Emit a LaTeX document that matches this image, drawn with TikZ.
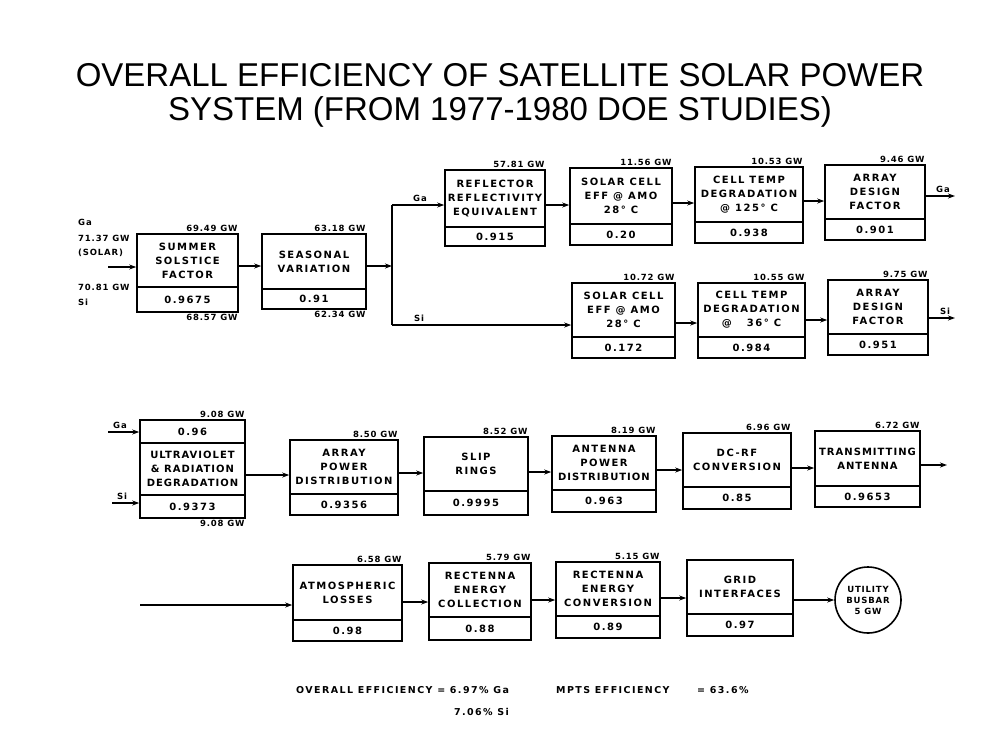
\documentclass[tikz,border=0pt]{standalone}
\usepackage{fontspec}
\setmainfont{Liberation Sans}
\newfontfamily\bx[LetterSpace=10]{DejaVu Sans}
\newfontfamily\bxw[LetterSpace=15]{DejaVu Sans}
\usetikzlibrary{arrows.meta,fit}
\tikzset{
  box/.style={draw, line width=1.6pt, inner sep=0pt},
  div/.style={line width=1.6pt},
  txt/.style={font=\bxw\bfseries\fontsize{10}{14}\selectfont, align=center, inner sep=0pt},
  lbl/.style={font=\bx\bfseries\fontsize{8.5}{10}\selectfont, inner sep=1pt},
  foot/.style={font=\bxw\bfseries\fontsize{9.5}{11}\selectfont, inner sep=1pt},
  ttl/.style={font=\fontsize{33}{40}\selectfont, inner sep=0pt},
  con/.style={line width=1.4pt},
  arr/.style={con, -{Stealth[length=7pt,width=5pt]}},
}
% name, left, top, right, bottom, divider, text, factor
\newcommand\blk[8]{%
  \node[box, fit={(#2,#3) (#4,#5)}] (#1) {};
  \draw[div] (#1.west |- 0,#6) -- (#1.east |- 0,#6);
  \node[txt] (#1t) at ({(#2+#4)/2},{(#3+#6)/2}) {#7};
  \node[txt] (#1f) at ({(#2+#4)/2},{(#6+#5)/2}) {#8};
}
\begin{document}
\begin{tikzpicture}[x=1pt,y=-1pt]
\useasboundingbox[fill=white] (0,0) rectangle (1000,747);
% title
\node[ttl] (t1) at (500,75) {OVERALL EFFICIENCY OF SATELLITE SOLAR POWER};
\node[ttl] (t2) at (500,112) {SYSTEM (FROM 1977-1980 DOE STUDIES)};
% ---------------- row 1 ----------------
\node[lbl, anchor=west] (lga) at (77,222) {Ga};
\node[lbl, anchor=west] (lp1) at (77,238) {71.37 GW};
\node[lbl, anchor=west] (lp2) at (77,253) {(SOLAR)};
\node[lbl, anchor=west] (lp3) at (77,287) {70.81 GW};
\node[lbl, anchor=west] (lsi) at (77,302) {Si};
\coordinate (in1) at (108,267);
\blk{b1}{137}{234}{238}{312}{287}{SUMMER\\SOLSTICE\\FACTOR}{0.9675}
\blk{b2}{262}{234}{366}{309}{289}{SEASONAL\\VARIATION}{0.91}
\node[lbl, anchor=south east] at (b1.north east) {69.49 GW};
\node[lbl, anchor=north east] at (b1.south east) {68.57 GW};
\node[lbl, anchor=south east] at (b2.north east) {63.18 GW};
\node[lbl, anchor=north east] at (b2.south east) {62.34 GW};
\draw[arr] (in1) -- (b1.west |- in1);
\draw[arr] (b1.east |- 0,266) -- (b2.west |- 0,266);
\coordinate (sp) at (392,266);
\coordinate (spT) at (392,205);
\coordinate (spB) at (392,325);
\draw[arr] (b2.east |- sp) -- (sp);
\draw[con] (spT) -- (spB);
\blk{b3}{445}{170}{545}{246}{227}{REFLECTOR\\REFLECTIVITY\\EQUIVALENT}{0.915}
\blk{b4}{570}{168}{672}{245}{224}{SOLAR CELL\\EFF @ AMO\\28° C}{0.20}
\blk{b5}{695}{167}{803}{243}{222}{CELL TEMP\\DEGRADATION\\@ 125° C}{0.938}
\blk{b6}{825}{165}{925}{240}{219}{ARRAY\\DESIGN\\FACTOR}{0.901}
\node[lbl, anchor=south east] at (b3.north east) {57.81 GW};
\node[lbl, anchor=south east] at (b4.north east) {11.56 GW};
\node[lbl, anchor=south east] at (b5.north east) {10.53 GW};
\node[lbl, anchor=south east] at (b6.north east) {9.46 GW};
\draw[arr] (spT) -- (b3.west |- spT);
\node[lbl, anchor=south] at (420,203) {Ga};
\draw[arr] (b3.east |- 0,205) -- (b4.west |- 0,205);
\draw[arr] (b4.east |- 0,203) -- (b5.west |- 0,203);
\draw[arr] (b5.east |- 0,201) -- (b6.west |- 0,201);
\coordinate (outGa) at (955,196);
\draw[arr] (b6.east |- outGa) -- (outGa);
\node[lbl, anchor=south] at (943,194) {Ga};
% ---------------- row 2 ----------------
\blk{b7}{572}{283}{675}{358}{337}{SOLAR CELL\\EFF @ AMO\\28° C}{0.172}
\blk{b8}{698}{283}{805}{358}{337}{CELL TEMP\\DEGRADATION\\@ \quad 36° C}{0.984}
\blk{b9}{828}{280}{928}{355}{334}{ARRAY\\DESIGN\\FACTOR}{0.951}
\node[lbl, anchor=south east] at (b7.north east) {10.72 GW};
\node[lbl, anchor=south east] at (b8.north east) {10.55 GW};
\node[lbl, anchor=south east] at (b9.north east) {9.75 GW};
\draw[arr] (spB) -- (b7.west |- spB);
\node[lbl, anchor=south] at (419,323) {Si};
\draw[arr] (b7.east |- 0,323) -- (b8.west |- 0,323);
\draw[arr] (b8.east |- 0,320) -- (b9.west |- 0,320);
\coordinate (outSi) at (955,318);
\draw[arr] (b9.east |- outSi) -- (outSi);
\node[lbl, anchor=south] at (945,316) {Si};
% ---------------- row 3 ----------------
\node[box, fit={(140,420) (245,518)}] (uv) {};
\draw[div] (uv.west |- 0,443) -- (uv.east |- 0,443);
\draw[div] (uv.west |- 0,495) -- (uv.east |- 0,495);
\node[txt] (uvf1) at (192.5,431.5) {0.96};
\node[txt] (uvt) at (192.5,469) {\bx ULTRAVIOLET\\\bx\& RADIATION\\\bx DEGRADATION};
\node[txt] (uvf2) at (192.5,506.5) {0.9373};
\node[lbl, anchor=south east] at (uv.north east) {9.08 GW};
\node[lbl, anchor=north east] at (uv.south east) {9.08 GW};
\coordinate (in3a) at (108,432);
\coordinate (in3b) at (112,503);
\draw[arr] (in3a) -- (uv.west |- in3a);
\draw[arr] (in3b) -- (uv.west |- in3b);
\node[lbl, anchor=south] at (120,430) {Ga};
\node[lbl, anchor=south] at (122,501) {Si};
\blk{b10}{290}{440}{398}{515}{494}{ARRAY\\POWER\\DISTRIBUTION}{0.9356}
\blk{b11}{424}{437}{528}{515}{491}{SLIP\\RINGS}{0.9995}
\blk{b12}{552}{436}{656}{512}{490}{ANTENNA\\POWER\\\bx DISTRIBUTION}{0.963}
\blk{b13}{683}{433}{791}{509}{487}{DC-RF\\CONVERSION}{0.85}
\blk{b14}{815}{431}{920}{507}{486}{\bx TRANSMITTING\\\bx ANTENNA}{0.9653}
\node[lbl, anchor=south east] at (b10.north east) {8.50 GW};
\node[lbl, anchor=south east] at (b11.north east) {8.52 GW};
\node[lbl, anchor=south east] at (b12.north east) {8.19 GW};
\node[lbl, anchor=south east] at (b13.north east) {6.96 GW};
\node[lbl, anchor=south east] at (b14.north east) {6.72 GW};
\draw[arr] (uv.east |- 0,475) -- (b10.west |- 0,475);
\draw[arr] (b10.east |- 0,473) -- (b11.west |- 0,473);
\draw[arr] (b11.east |- 0,472) -- (b12.west |- 0,472);
\draw[arr] (b12.east |- 0,470) -- (b13.west |- 0,470);
\draw[arr] (b13.east |- 0,468) -- (b14.west |- 0,468);
\coordinate (out3) at (947,465);
\draw[arr] (b14.east |- out3) -- (out3);
% ---------------- row 4 ----------------
\coordinate (in4) at (140,605);
\blk{b15}{293}{565}{402}{641}{620}{ATMOSPHERIC\\LOSSES}{0.98}
\blk{b16}{429}{563}{531}{640}{617}{RECTENNA\\ENERGY\\COLLECTION}{0.88}
\blk{b17}{556}{562}{660}{638}{616}{RECTENNA\\ENERGY\\CONVERSION}{0.89}
\blk{b18}{687}{560}{793}{636}{614}{GRID\\INTERFACES}{0.97}
\node[lbl, anchor=south east] at (b15.north east) {6.58 GW};
\node[lbl, anchor=south east] at (b16.north east) {5.79 GW};
\node[lbl, anchor=south east] at (b17.north east) {5.15 GW};
\node[draw, circle, line width=1.6pt, minimum size=66pt, inner sep=0pt, align=center,
      font=\bx\bfseries\fontsize{8.5}{11}\selectfont] (ub) at (868,600) {UTILITY\\BUSBAR\\5 GW};
\draw[arr] (in4) -- (b15.west |- in4);
\draw[arr] (b15.east |- 0,602) -- (b16.west |- 0,602);
\draw[arr] (b16.east |- 0,600) -- (b17.west |- 0,600);
\draw[arr] (b17.east |- 0,598) -- (b18.west |- 0,598);
\draw[arr] (b18.east |- ub.west) -- (ub.west);
% ---------------- bottom text ----------------
\node[foot, anchor=base west] (ov1) at (295,693) {OVERALL EFFICIENCY = 6.97\% Ga};
\node[foot, anchor=base east] (ov2) at (ov1.base east |- 0,715) {7.06\% Si};
\node[foot, anchor=base west] (mp1) at (555,693) {MPTS EFFICIENCY};
\node[foot, anchor=base west] (mp2) at (696,693) {= 63.6\%};
\end{tikzpicture}
\end{document}
